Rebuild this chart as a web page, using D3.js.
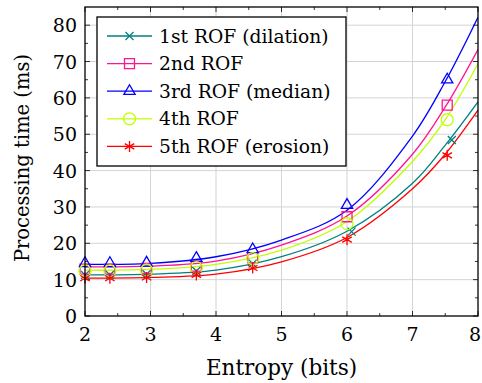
<!DOCTYPE html>
<html>
<head>
<meta charset="utf-8">
<script src="https://cdn.jsdelivr.net/npm/d3@7"></script>
<style>
  html, body { margin: 0; padding: 0; background: #fff; }
  text { font-family: "DejaVu Serif", serif; fill: #000; }
</style>
</head>
<body>
<div id="chart"></div>
<script>
// measured points (markers)
const entropy = [2, 2.38, 2.94, 3.7, 4.56, 6.0, 7.53];
const entropyRof1 = [2, 2.38, 2.94, 3.7, 4.56, 6.07, 7.6];
const rof1 = [11.3, 11.3, 11.5, 12.4, 14.4, 23.2, 48.4];
const rof2 = [12.9, 12.9, 13.1, 13.7, 16.0, 27.3, 58.0];
const rof3 = [14.5, 14.5, 14.6, 15.9, 18.3, 30.5, 65.0];
const rof4 = [12.4, 12.4, 12.6, 13.3, 15.8, 25.4, 54.0];
const rof5 = [10.4, 10.4, 10.6, 11.3, 13.2, 21.0, 44.2];

// fitted curves
const fitX = [2, 3, 4, 5, 6, 7, 7.5, 8];
const fit1 = [11.3, 11.5, 12.6, 16.3, 23.3, 36.5, 47.0, 58.9];
const fit2 = [13.5, 13.7, 15.1, 19.5, 27.5, 44.5, 57.5, 73.3];
const fit3 = [14.2, 14.5, 16.3, 20.9, 29.1, 49.5, 64.5, 82.2];
const fit4 = [12.6, 12.8, 14.2, 18.1, 26.0, 42.5, 54.0, 69.4];
const fit5 = [10.4, 10.6, 11.5, 14.9, 21.6, 35.0, 44.5, 56.6];

const xTicks = [2, 3, 4, 5, 6, 7, 8];
const yTicks = [0, 10, 20, 30, 40, 50, 60, 70, 80];

const series = [
    { name: '1st ROF (dilation)', color: '#008080', mark: 'cross', xs: entropyRof1, ys: rof1, fit: fit1 },
    { name: '2nd ROF', color: '#ff1493', mark: 'square', xs: entropy, ys: rof2, fit: fit2 },
    { name: '3rd ROF (median)', color: '#0000ff', mark: 'triangle', xs: entropy, ys: rof3, fit: fit3 },
    { name: '4th ROF', color: '#bfff00', mark: 'circle', xs: entropy, ys: rof4, fit: fit4 },
    { name: '5th ROF (erosion)', color: '#ff0000', mark: 'star', xs: entropy, ys: rof5, fit: fit5 }
];

const width = 482, height = 383;
const margin = { left: 85, right: 4, top: 7, bottom: 67 };

const svg = d3.select('#chart').append('svg')
    .attr('width', width)
    .attr('height', height);

const x = d3.scaleLinear().domain([2, 8]).range([margin.left, width - margin.right]);
const y = d3.scaleLinear().domain([0, 85]).range([height - margin.bottom, margin.top]);

const [x0, x1] = x.range();
const [y0, y1] = y.range();

svg.append('defs').append('clipPath').attr('id', 'plot-clip')
    .append('rect').attr('x', x0).attr('y', y1).attr('width', x1 - x0).attr('height', y0 - y1);

// grid
const grid = svg.append('g').attr('stroke', '#d4d4d4').attr('stroke-width', 1);
grid.selectAll('.gx').data(xTicks.slice(1, -1)).enter().append('line')
    .attr('x1', d => x(d)).attr('x2', d => x(d)).attr('y1', y0).attr('y2', y1);
grid.selectAll('.gy').data(yTicks.slice(1)).enter().append('line')
    .attr('y1', d => y(d)).attr('y2', d => y(d)).attr('x1', x0).attr('x2', x1);

// ticks, inward on all four sides
const tickLen = 5, minorLen = 3;
const xMinor = d3.range(2.5, 8, 1);
const yMinor = d3.range(5, 85, 10);
const ticks = svg.append('g').attr('stroke', '#000').attr('stroke-width', 0.8);
[[xTicks, tickLen], [xMinor, minorLen]].forEach(([vals, len]) => {
    vals.forEach(v => {
        ticks.append('line').attr('x1', x(v)).attr('x2', x(v)).attr('y1', y0).attr('y2', y0 - len);
        ticks.append('line').attr('x1', x(v)).attr('x2', x(v)).attr('y1', y1).attr('y2', y1 + len);
    });
});
[[yTicks, tickLen], [yMinor, minorLen]].forEach(([vals, len]) => {
    vals.forEach(v => {
        ticks.append('line').attr('y1', y(v)).attr('y2', y(v)).attr('x1', x0).attr('x2', x0 + len);
        ticks.append('line').attr('y1', y(v)).attr('y2', y(v)).attr('x1', x1).attr('x2', x1 - len);
    });
});

// tick labels (last x label nudged so it stays on the page)
svg.append('g').selectAll('text').data(xTicks).enter().append('text')
    .attr('x', d => Math.min(x(d), width - 7)).attr('y', y0 + 25)
    .attr('text-anchor', 'middle').attr('font-size', 19)
    .text(d => d);
svg.append('g').selectAll('text').data(yTicks).enter().append('text')
    .attr('x', x0 - 8).attr('y', d => y(d) + 7)
    .attr('text-anchor', 'end').attr('font-size', 19)
    .text(d => d);

// axis titles
svg.append('text')
    .attr('x', (x0 + x1) / 2).attr('y', 375)
    .attr('text-anchor', 'middle').attr('font-size', 21.5)
    .text('Entropy (bits)');
svg.append('text')
    .attr('transform', 'translate(29,158) rotate(-90)')
    .attr('text-anchor', 'middle').attr('font-size', 19.5)
    .text('Processing time (ms)');

// marker shapes
function markPath(type) {
    switch (type) {
        case 'cross': { const r = 4; return `M${-r},${-r}L${r},${r}M${-r},${r}L${r},${-r}`; }
        case 'square': { const r = 5; return `M${-r},${-r}H${r}V${r}H${-r}Z`; }
        case 'triangle': { const r = 6.5; return `M0,${-r}L${r * 0.866},${r / 2}L${-r * 0.866},${r / 2}Z`; }
        case 'circle': { const r = 6; return `M${r},0A${r},${r} 0 1,1 ${-r},0A${r},${r} 0 1,1 ${r},0Z`; }
        case 'star': {
            const r = 5.5, c = r * 0.866, s = r / 2;
            return `M0,${-r}L0,${r}M${-c},${-s}L${c},${s}M${-c},${s}L${c},${-s}`;
        }
    }
}

const line = d3.line()
    .x(d => x(d[0])).y(d => y(d[1]))
    .curve(d3.curveCatmullRom.alpha(0.5));

const plot = svg.append('g').attr('clip-path', 'url(#plot-clip)');
series.forEach(s => {
    plot.append('path')
        .datum(fitX.map((v, i) => [v, s.fit[i]]))
        .attr('d', line)
        .attr('fill', 'none')
        .attr('stroke', s.color)
        .attr('stroke-width', 1.3);
});
series.forEach(s => {
    svg.append('g').selectAll('path')
        .data(s.xs.map((v, i) => [v, s.ys[i]]))
        .enter().append('path')
        .attr('transform', d => `translate(${x(d[0])},${y(d[1])})`)
        .attr('d', markPath(s.mark))
        .attr('fill', 'none')
        .attr('stroke', s.color)
        .attr('stroke-width', 1.3);
});

// frame
svg.append('rect')
    .attr('x', x0).attr('y', y1).attr('width', x1 - x0).attr('height', y0 - y1)
    .attr('fill', 'none').attr('stroke', '#000').attr('stroke-width', 1.3);

// legend
const legend = svg.append('g').attr('transform', 'translate(97,17)');
legend.append('rect')
    .attr('width', 249).attr('height', 149)
    .attr('fill', '#fff').attr('stroke', '#000').attr('stroke-width', 1.3);
series.forEach((s, i) => {
    const row = legend.append('g').attr('transform', `translate(0,${19 + i * 27.6})`);
    row.append('line')
        .attr('x1', 10).attr('x2', 55)
        .attr('stroke', s.color).attr('stroke-width', 1.3);
    row.append('path')
        .attr('transform', 'translate(32.5,0)')
        .attr('d', markPath(s.mark))
        .attr('fill', 'none').attr('stroke', s.color).attr('stroke-width', 1.3);
    row.append('text')
        .attr('x', 62).attr('y', 6.5)
        .attr('font-size', 18.7)
        .text(s.name);
});
</script>
</body>
</html>
